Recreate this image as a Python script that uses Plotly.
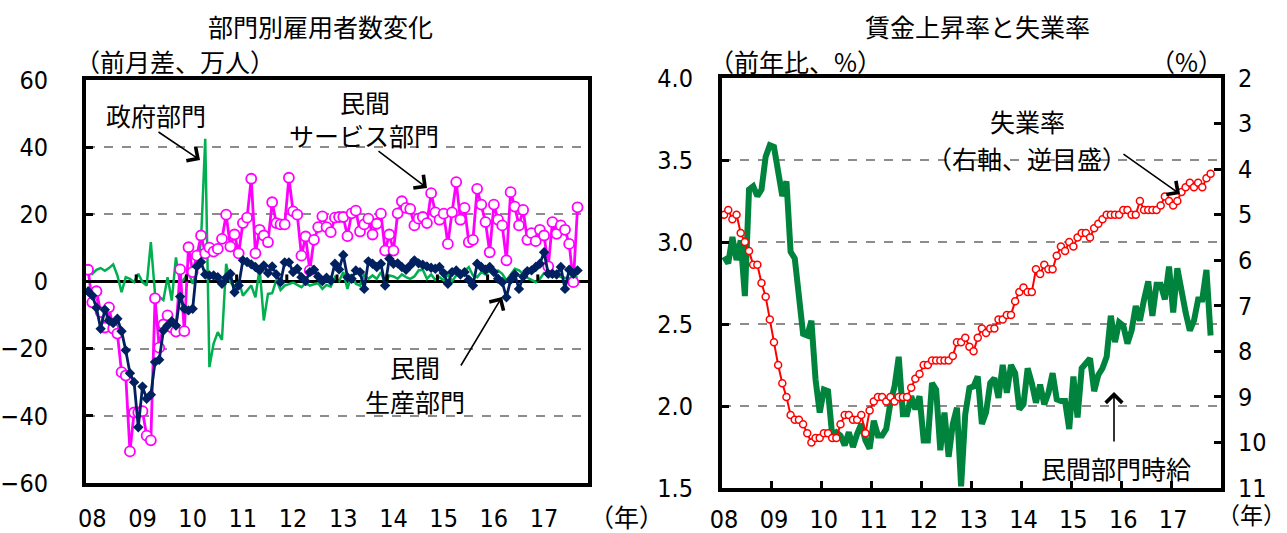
import plotly.graph_objects as go

# Monthly series, Jan 2008 - Oct 2017
gov = [4.0, 2.3, 3.5, 4.0, 3.2, 4.0, 5.1, 1.8, -3.2, 1.3,
       0.8, -0.2, 2.3, -0.2, -1.2, 11.7, -3.7, -4.7, -5.5, 1.3,
       -5.7, 7.2, -0.7, 0.8, 2.8, -0.7, 3.3, 12.2, 42.5, -25.5,
       -18.5, -15.1, -17.4, 5.3, -0.2, -1.7, 0.3, -4.2, -2.7, -1.2,
       -4.7, 4.0, -11.6, -3.7, -3.5, 0.5, -2.5, -1.2, -0.8, -0.3,
       -1.0, -1.7, -0.5, -1.2, -0.8, -0.5, -2.2, -1.0, -1.5, 1.3,
       0.1, 2.8, -2.2, 2.1, -0.7, -1.2, 2.0, 0.8, 1.8, 0.8,
       2.8, -0.7, 1.8, 1.5, 0.8, 2.1, 1.3, 0.8, 1.5, 3.3,
       3.5, 0.8, 2.1, 0.5, 1.3, 0.3, 2.1, 0.1, 1.8, 2.3,
       3.1, 4.3, 1.8, 1.3, 2.8, 2.1, 3.3, 2.5, 3.3, 2.3,
       0.3, 2.1, 3.8, 3.3, 2.1, 1.1, 0.5, -0.2, 0.8, 2.5,
       1.8, 1.3, 2.1, 1.3, 1.1, 0.8, 1.8, 1.1]

svc = [3.5, -6.2, -2.9, -9.1, -13.7, -7.7, -14.0, -15.5, -27.0, -28.0,
       -50.6, -39.0, -39.0, -38.6, -45.9, -47.3, -5.0, -19.7, -12.8, -10.1,
       -13.7, -14.9, 3.6, -14.8, 10.2, 2.8, 7.7, 13.7, 8.4, 10.1,
       8.9, 9.7, 12.7, 19.9, 10.4, 14.0, 8.4, 17.4, 19.0, 30.6,
       8.4, 15.4, 13.7, 11.7, 23.6, 17.4, 17.0, 17.0, 30.9, 20.9,
       19.9, 7.7, 13.4, 3.3, 12.4, 16.2, 19.4, 16.2, 14.7, 19.0,
       19.2, 19.2, 13.5, 20.3, 21.1, 14.9, 17.0, 18.7, 14.0, 17.2,
       20.2, 9.2, 14.0, 9.2, 20.3, 23.9, 21.9, 21.6, 16.7, 18.7,
       19.2, 17.4, 26.3, 20.6, 18.4, 20.2, 11.2, 20.6, 29.6, 18.4,
       21.9, 11.7, 12.4, 27.6, 22.9, 17.7, 8.7, 22.9, 18.4, 16.7,
       6.3, 26.6, 22.3, 16.7, 21.3, 12.4, 14.4, 12.0, 15.4, 13.7,
       4.5, 17.7, 14.2, 16.7, 15.4, 11.2, -0.2, 22.1]

prod = [-2.9, -4.2, -7.8, -14.1, -8.4, -11.6, -12.4, -11.1, -14.8, -20.5,
        -27.3, -30.0, -43.4, -31.3, -34.9, -33.7, -24.0, -23.3, -14.6, -13.1,
        -11.8, -13.1, -4.5, -8.1, -8.6, -8.1, 4.5, 5.8, 2.1, 1.8,
        1.8, 1.3, -0.7, 1.1, 2.3, -3.2, -1.2, 6.3, 5.8, 5.1,
        4.3, 3.3, 4.8, 2.5, 4.5, 2.1, -0.2, 5.7, 5.7, 2.8,
        3.8, 1.3, 0.1, 2.8, 3.5, 1.5, 0.1, 1.1, 0.3, 5.3,
        3.6, 7.9, 1.3, 0.8, 3.3, 2.8, -2.2, 6.0, 5.3, 4.3,
        5.3, -1.2, 6.8, 5.3, 5.4, 4.3, 3.5, 4.8, 6.3, 5.4,
        5.0, 4.5, 4.1, 3.8, 4.3, 2.5, -0.7, 2.8, 3.3, 2.1,
        2.8, 0.5, -1.2, 5.3, 4.3, 3.5, 4.3, 2.8, 0.8, -0.2,
        -4.7, 0.5, 2.1, -2.2, 1.5, 3.1, 3.3, 4.3, 5.3, 8.7,
        2.3, 2.3, 2.1, 4.3, -2.2, 3.5, 2.3, 3.3]

wage = [2.91, 2.87, 3.03, 2.89, 3.01, 2.67, 3.32, 3.34, 3.28, 3.32,
        3.52, 3.59, 3.58, 3.44, 3.28, 3.37, 2.94, 2.90, 2.69, 2.44,
        2.43, 2.52, 2.16, 1.96, 2.10, 2.09, 1.82, 1.84, 1.82, 1.76,
        1.84, 1.75, 1.83, 1.89, 1.79, 1.74, 1.91, 1.82, 1.82, 1.86,
        2.02, 2.12, 2.30, 1.95, 1.95, 2.06, 1.98, 2.06, 1.79, 1.79,
        2.14, 2.10, 1.73, 1.96, 1.69, 1.89, 1.99, 1.51, 1.95, 2.11,
        2.12, 2.18, 1.89, 1.96, 2.14, 2.17, 2.05, 2.25, 2.08, 2.25,
        2.20, 1.98, 2.01, 2.23, 2.14, 2.02, 2.13, 2.01, 2.08, 2.20,
        2.04, 2.03, 2.03, 1.86, 2.18, 1.93, 2.23, 2.26, 2.29, 2.09,
        2.19, 2.23, 2.30, 2.55, 2.39, 2.51, 2.49, 2.38, 2.46, 2.61,
        2.52, 2.65, 2.76, 2.55, 2.74, 2.74, 2.65, 2.85, 2.57, 2.84,
        2.69, 2.57, 2.46, 2.52, 2.65, 2.65, 2.83, 2.43]

unemp = [5.0, 4.9, 5.1, 5.0, 5.4, 5.6, 5.8, 6.1, 6.1, 6.5, 6.8, 7.3,
         7.8, 8.3, 8.7, 9.0, 9.4, 9.5, 9.5, 9.6, 9.8, 10.0, 9.9, 9.9,
         9.8, 9.8, 9.9, 9.9, 9.6, 9.4, 9.4, 9.5, 9.5, 9.4, 9.8, 9.3,
         9.1, 9.0, 9.0, 9.1, 9.0, 9.1, 9.0, 9.0, 9.0, 8.8, 8.6, 8.5,
         8.3, 8.3, 8.2, 8.2, 8.2, 8.2, 8.2, 8.1, 7.8, 7.8, 7.7, 7.9,
         8.0, 7.7, 7.5, 7.6, 7.5, 7.5, 7.3, 7.3, 7.2, 7.2, 6.9, 6.7,
         6.6, 6.7, 6.7, 6.2, 6.3, 6.1, 6.2, 6.2, 5.9, 5.7, 5.8, 5.6,
         5.7, 5.5, 5.4, 5.4, 5.5, 5.3, 5.2, 5.1, 5.0, 5.0, 5.0, 5.0,
         4.9, 4.9, 5.0, 5.0, 4.7, 4.9, 4.9, 4.9, 4.9, 4.8, 4.6, 4.7,
         4.8, 4.7, 4.5, 4.4, 4.3, 4.4, 4.3, 4.4, 4.2, 4.1]

year_labels = ["08", "09", "10", "11", "12", "13", "14", "15", "16", "17"]

months = list(range(len(svc)))

W, H = 1287, 533
JP = "Noto Sans CJK JP"
NUM = "Liberation Sans Narrow, DejaVu Sans Condensed, Liberation Sans, sans-serif"


def px(x):
    return x / W


def py(y):
    return 1 - y / H


fig = go.Figure()

# Left panel: employment change by sector
fig.add_trace(go.Scatter(x=months, y=gov, mode="lines", name="政府部門",
                         line=dict(color="#00B050", width=2.5),
                         xaxis="x", yaxis="y"))
fig.add_trace(go.Scatter(x=months, y=svc, mode="lines+markers", name="民間サービス部門",
                         line=dict(color="#FF00FF", width=2.8),
                         marker=dict(symbol="circle", size=10, color="white",
                                     line=dict(color="#FF00FF", width=1.8)),
                         xaxis="x", yaxis="y"))
fig.add_trace(go.Scatter(x=months, y=prod, mode="lines+markers", name="民間生産部門",
                         line=dict(color="#002060", width=2.8),
                         marker=dict(symbol="diamond", size=8, color="#002060"),
                         xaxis="x", yaxis="y"))

# Right panel: wage growth and unemployment
fig.add_trace(go.Scatter(x=months, y=wage, mode="lines", name="民間部門時給",
                         line=dict(color="#00843D", width=6),
                         xaxis="x2", yaxis="y3"))
fig.add_trace(go.Scatter(x=months, y=unemp, mode="lines+markers", name="失業率",
                         line=dict(color="#FF0000", width=2),
                         marker=dict(symbol="circle", size=7, color="white",
                                     line=dict(color="#FF0000", width=1.5)),
                         xaxis="x2", yaxis="y4"))

left_dom = [px(86), px(588)]
right_dom = [px(722), px(1221)]
year_bounds = [12 * k - 0.5 for k in range(1, 10)]

axis_common = dict(showline=True, linecolor="black", linewidth=4, mirror=True,
                   automargin=False)

fig.update_layout(
    width=W, height=H,
    margin=dict(l=0, r=0, t=0, b=0),
    paper_bgcolor="white", plot_bgcolor="white",
    showlegend=False,
    font=dict(family=JP, size=25, color="black"),
    xaxis=dict(domain=left_dom, range=[-0.5, 119.5], anchor="y",
               tickmode="array", tickvals=[12 * k + 1 for k in range(10)],
               ticktext=year_labels, ticks="", showgrid=False, zeroline=False,
               tickfont=dict(family=NUM, size=25), ticklabelstandoff=10,
               **axis_common),
    yaxis=dict(domain=[py(483), py(80)], range=[-60, 60], anchor="x",
               tickmode="array", tickvals=list(range(-60, 61, 20)),
               ticks="inside", ticklen=7, tickwidth=3, tickcolor="black",
               showgrid=True, gridcolor="#8C8C8C", griddash="dash", gridwidth=1.5,
               zeroline=True, zerolinecolor="black", zerolinewidth=3,
               tickfont=dict(family=NUM, size=25), ticklabelstandoff=29,
               **axis_common),
    xaxis2=dict(domain=right_dom, range=[-0.5, 119.5], anchor="y3",
                tickmode="array", tickvals=[12 * k for k in range(10)],
                ticktext=year_labels, ticks="", showgrid=False, zeroline=False,
                minor=dict(tickmode="array", tickvals=year_bounds, ticks="inside",
                           ticklen=7, tickwidth=3, tickcolor="black", showgrid=False),
                tickfont=dict(family=NUM, size=25), ticklabelstandoff=6,
                **axis_common),
    yaxis3=dict(domain=[py(488), py(78)], range=[1.5, 4.0], anchor="x2",
                tickmode="array", tickvals=[1.5, 2.0, 2.5, 3.0, 3.5, 4.0],
                tickformat=".1f", ticks="inside", ticklen=7, tickwidth=3,
                tickcolor="black", showgrid=True, gridcolor="#8C8C8C",
                griddash="dash", gridwidth=1.5, zeroline=False,
                tickfont=dict(family=NUM, size=25), ticklabelstandoff=20,
                **axis_common),
    yaxis4=dict(domain=[py(488), py(78)], range=[11, 2], anchor="x2",
                overlaying="y3", side="right", automargin=False,
                tickmode="array", tickvals=list(range(2, 12)),
                ticks="inside", ticklen=7, tickwidth=3, tickcolor="black",
                showgrid=False, zeroline=False, showline=False,
                tickfont=dict(family=NUM, size=25), ticklabelstandoff=16),
)

# Year tick marks sitting on the zero line of the left panel
for xb in year_bounds:
    fig.add_shape(type="line", xref="x", yref="y", x0=xb, x1=xb, y0=0, y1=2.1,
                  line=dict(color="black", width=3))

texts = [
    ("部門別雇用者数変化", 320, 26, "center", 25),
    ("（前月差、万人）", 74, 61, "left", 25),
    ("賃金上昇率と失業率", 977, 26, "center", 25),
    ("（前年比、%）", 708, 61, "left", 25),
    ("（%）", 1224, 61, "right", 25),
    ("政府部門", 156, 115, "center", 25),
    ("民間", 365, 102, "center", 25),
    ("サービス部門", 364, 135, "center", 25),
    ("民間", 415, 367, "center", 25),
    ("生産部門", 415, 401, "center", 25),
    ("失業率", 1027, 121, "center", 25),
    ("（右軸、逆目盛）", 1027, 158, "center", 25),
    ("民間部門時給", 1116, 468, "center", 25),
    ("（年）", 626, 516, "center", 25),
]
for t, x, y, anc, sz in texts:
    fig.add_annotation(text=t, x=px(x), y=py(y), xref="paper", yref="paper",
                       xanchor=anc, yanchor="middle", showarrow=False,
                       borderpad=0,
                       font=dict(family=JP, size=sz, color="black"))

# Year unit label tucked into the bottom-right corner
fig.add_annotation(text="（年）", x=1, y=0, xref="paper", yref="paper",
                   xanchor="right", yanchor="bottom", showarrow=False,
                   borderpad=0, yshift=1,
                   font=dict(family=JP, size=23, color="black"))

arrows = [
    ((157, 131), (200, 160)),
    ((377, 150), (427, 188)),
    ((460, 367), (502, 297)),
    ((1122, 153), (1180, 194)),
    ((1114, 443), (1114, 392)),
]
for (tx, ty), (hx, hy) in arrows:
    fig.add_annotation(text="", x=px(hx), y=py(hy), xref="paper", yref="paper",
                       ax=tx - hx, ay=ty - hy, showarrow=True,
                       arrowhead=4, arrowsize=2, arrowwidth=1.6,
                       arrowcolor="black", standoff=0, startstandoff=0)

fig.write_html("out.html")
